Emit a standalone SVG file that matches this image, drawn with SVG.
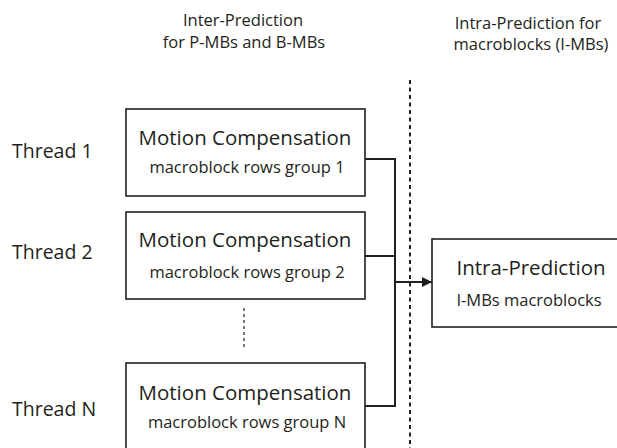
<svg xmlns="http://www.w3.org/2000/svg" width="617" height="448" viewBox="0 0 617 448">
<defs>
<style>
text{font-family:"Open Sans","Noto Sans",sans-serif;fill:#231f20;text-anchor:middle}
.hdr{font-size:16.5px}
.thr{font-size:19.5px;text-anchor:start}
.ttl{font-size:20.5px}
.sub{font-size:16.5px}
.box{fill:#fff;stroke:#231f20;stroke-width:1.6}
.con{fill:none;stroke:#231f20;stroke-width:2}
.sep{fill:none;stroke:#231f20;stroke-width:2;stroke-dasharray:4 3.5}
.dots{fill:none;stroke:#231f20;stroke-width:1.2;stroke-dasharray:3 3}
</style>
<marker id="arr" markerWidth="10" markerHeight="10" refX="10" refY="5" orient="auto" markerUnits="userSpaceOnUse">
<path d="M0,0 L10,5 L0,10 Z" fill="#231f20"/>
</marker>
</defs>
<rect width="617" height="448" fill="#fff"/>
<g id="headers">
<text class="hdr" x="243" y="26">Inter-Prediction</text>
<text class="hdr" x="244" y="48">for P-MBs and B-MBs</text>
<text class="hdr" x="528" y="29">Intra-Prediction for</text>
<text class="hdr" x="531" y="50">macroblocks (I-MBs)</text>
</g>
<g id="threads">
<text class="thr" x="12" y="158">Thread 1</text>
<text class="thr" x="12" y="259">Thread 2</text>
<text class="thr" x="12" y="416">Thread N</text>
</g>
<line class="sep" x1="410" y1="80" x2="410" y2="448"/>
<line class="dots" x1="244" y1="308" x2="244" y2="350"/>
<g id="connectors">
<polyline class="con" points="365,159 395,159 395,406 365,406"/>
<line class="con" x1="365" y1="256" x2="395" y2="256"/>
<line class="con" x1="395" y1="282" x2="432" y2="282" marker-end="url(#arr)"/>
</g>
<g id="mc1">
<rect class="box" x="126" y="109" width="239" height="87"/>
<text class="ttl" x="245" y="145">Motion Compensation</text>
<text class="sub" x="247" y="173">macroblock rows group 1</text>
</g>
<g id="mc2">
<rect class="box" x="126" y="212" width="239" height="87"/>
<text class="ttl" x="245" y="247">Motion Compensation</text>
<text class="sub" x="247" y="278">macroblock rows group 2</text>
</g>
<g id="mcN">
<rect class="box" x="126" y="363" width="239" height="90"/>
<text class="ttl" x="245" y="400">Motion Compensation</text>
<text class="sub" x="247" y="428">macroblock rows group N</text>
</g>
<g id="intra">
<rect class="box" x="432" y="239" width="190" height="88"/>
<text class="ttl" x="531" y="275">Intra-Prediction</text>
<text class="sub" x="529" y="306">I-MBs macroblocks</text>
</g>
</svg>
